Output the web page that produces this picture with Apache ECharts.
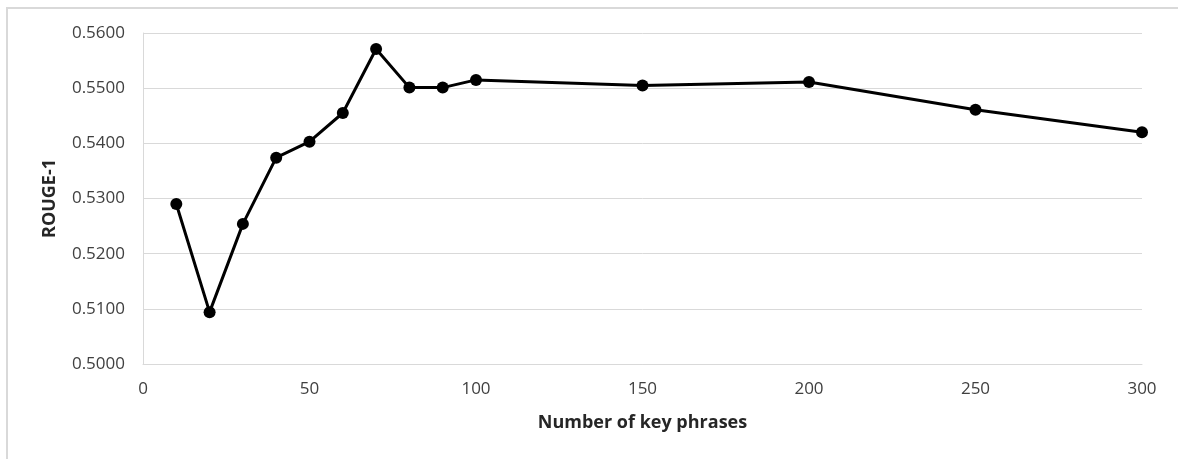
<!DOCTYPE html>
<html>
<head>
<meta charset="utf-8">
<script src="https://cdn.jsdelivr.net/npm/echarts@6/dist/echarts.min.js"></script>
<style>
html,body{margin:0;padding:0;background:#fff;}
#chart{width:1178px;height:459px;}
</style>
</head>
<body>
<div id="chart"></div>
<script>
var keyPhrases = [10, 20, 30, 40, 50, 60, 70, 80, 90, 100, 150, 200, 250, 300];
var rouge1 = [0.5290, 0.5094, 0.5254, 0.5374, 0.5403, 0.5455, 0.5571, 0.5501, 0.5501, 0.5515, 0.5505, 0.5511, 0.5461, 0.5420];
var xAxisTitle = 'Number of key phrases';
var yAxisTitle = 'ROUGE-1';

var chart = echarts.init(document.getElementById('chart'), null, {renderer: 'canvas'});
var font = '"Open Sans", "Liberation Sans", sans-serif';
chart.setOption({
  animation: false,
  backgroundColor: '#ffffff',
  graphic: [{
    type: 'rect',
    shape: {x: 7, y: 8, width: 1200, height: 500},
    style: {fill: 'none', stroke: '#d9d9d9', lineWidth: 2},
    silent: true
  }],
  grid: {left: 143, right: 36, top: 33, bottom: 95},
  xAxis: {
    type: 'value',
    min: 0, max: 300, interval: 50,
    name: xAxisTitle,
    nameLocation: 'middle',
    nameGap: 50,
    nameTextStyle: {fontFamily: font, fontSize: 18, fontWeight: 'bold', color: '#262626'},
    axisLine: {show: true, lineStyle: {color: '#d9d9d9', width: 1}},
    axisTick: {show: false},
    splitLine: {show: false},
    axisLabel: {fontFamily: font, fontSize: 17, color: '#404040', margin: 17}
  },
  yAxis: {
    type: 'value',
    min: 0.50, max: 0.56, interval: 0.01,
    name: yAxisTitle,
    nameLocation: 'middle',
    nameGap: 84,
    nameRotate: 90,
    nameTextStyle: {fontFamily: font, fontSize: 18, fontWeight: 'bold', color: '#262626'},
    axisLine: {show: true, lineStyle: {color: '#d9d9d9', width: 1}},
    axisTick: {show: false},
    splitLine: {show: true, lineStyle: {color: '#d9d9d9', width: 1}},
    axisLabel: {
      fontFamily: font, fontSize: 17, color: '#404040', margin: 18,
      formatter: function (v) { return v.toFixed(4); }
    }
  },
  series: [{
    type: 'line',
    data: keyPhrases.map(function (x, i) { return [x, rouge1[i]]; }),
    symbol: 'circle',
    symbolSize: 12,
    lineStyle: {color: '#000000', width: 3},
    itemStyle: {color: '#000000'}
  }]
});
</script>
</body>
</html>
